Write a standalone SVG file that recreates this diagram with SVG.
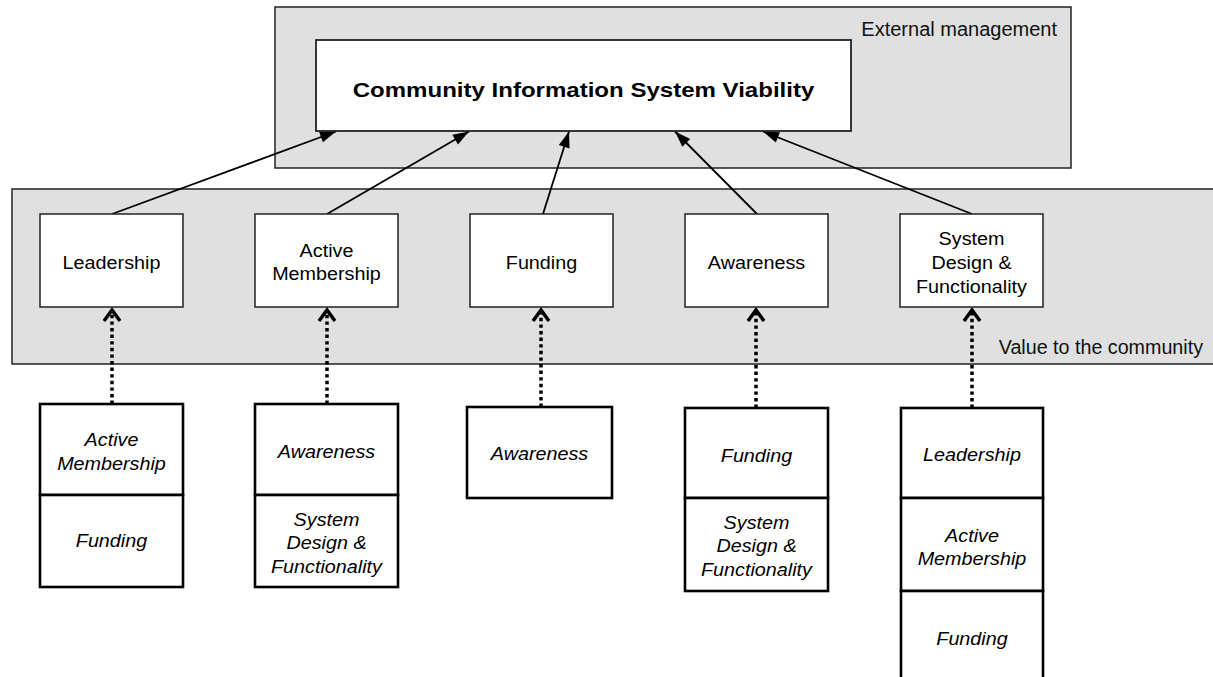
<svg xmlns="http://www.w3.org/2000/svg" width="1213" height="677" viewBox="0 0 1213 677">
<style>
.bg{fill:#ffffff}
.band{fill:#e0e0e0;stroke:#222;stroke-width:1.5}
.top{fill:#fff;stroke:#222;stroke-width:1.8}
.mid{fill:#fff;stroke:#222;stroke-width:1.5}
.bot{fill:#fff;stroke:#000;stroke-width:2.6}
.arrow{fill:none;stroke:#000;stroke-width:1.8;marker-end:url(#ah)}
.dot{fill:none;stroke:#000;stroke-width:3.5;stroke-dasharray:3.4 3.2;marker-end:url(#ch)}
text{font-family:"Liberation Sans",Arial,Helvetica,sans-serif;fill:#000}
.lbl{font-size:17.5px;text-anchor:middle}
.it{font-style:italic}
.title{font-size:21px;font-weight:bold;text-anchor:middle}
.cap{font-size:20px;text-anchor:end;fill:#111}
</style>
<defs>
<marker id="ah" markerUnits="userSpaceOnUse" viewBox="-17 -7 18 14" refX="0" refY="0" markerWidth="18" markerHeight="14" orient="auto" overflow="visible">
<path d="M0,0 L-16,-5.6 L-16,5.6 Z" fill="#000" stroke="none"/>
</marker>
<marker id="ch" markerUnits="userSpaceOnUse" viewBox="-14 -10 16 20" refX="0" refY="0" markerWidth="16" markerHeight="20" orient="auto" overflow="visible">
<path d="M-11,-8 L0,0 L-11,8" fill="none" stroke="#000" stroke-width="3.5" stroke-dasharray="none" stroke-linejoin="miter"/>
</marker>
</defs>
<rect class="bg" x="0" y="0" width="1213" height="677"/>

<g id="external-management">
<rect class="band" x="275" y="7" width="796" height="161"/>
<text class="cap" x="1057" y="35.5">External management</text>
</g>
<g id="value-to-community">
<rect class="band" x="12" y="189" width="1210" height="175"/>
<text class="cap" style="font-size:19.7px" x="1203" y="354">Value to the community</text>
</g>

<g id="connectors">
<line class="arrow" x1="112" y1="214" x2="336" y2="131.5"/>
<line class="arrow" x1="327" y1="214" x2="469" y2="131.5"/>
<line class="arrow" x1="543" y1="214" x2="569" y2="131.5"/>
<line class="arrow" x1="757" y1="214" x2="675" y2="131.5"/>
<line class="arrow" x1="972" y1="214" x2="763" y2="131.5"/>
<line class="dot" x1="112" y1="404" x2="112" y2="310"/>
<line class="dot" x1="327" y1="404" x2="327" y2="310"/>
<line class="dot" x1="541" y1="407" x2="541" y2="310"/>
<line class="dot" x1="756" y1="408" x2="756" y2="310"/>
<line class="dot" x1="972" y1="408" x2="972" y2="310"/>
</g>

<g id="cisv">
<rect class="top" x="316" y="40" width="535" height="91"/>
<text class="title" transform="translate(583.5 97) scale(1.145 1)">Community Information System Viability</text>
</g>

<g id="leadership">
<rect class="mid" x="40" y="214" width="143" height="93"/>
<text class="lbl" transform="translate(111.5 269) scale(1.13 1)">Leadership</text>
</g>
<g id="active-membership">
<rect class="mid" x="255" y="214" width="143" height="93"/>
<text class="lbl" transform="translate(326.5 257) scale(1.13 1)"><tspan x="0" y="0">Active</tspan><tspan x="0" y="23">Membership</tspan></text>
</g>
<g id="funding">
<rect class="mid" x="470" y="214" width="143" height="93"/>
<text class="lbl" transform="translate(541.5 269) scale(1.13 1)">Funding</text>
</g>
<g id="awareness">
<rect class="mid" x="685" y="214" width="143" height="93"/>
<text class="lbl" transform="translate(756.5 269) scale(1.13 1)">Awareness</text>
</g>
<g id="system-design">
<rect class="mid" x="900" y="214" width="143" height="93"/>
<text class="lbl" transform="translate(971.5 245) scale(1.13 1)"><tspan x="0" y="0">System</tspan><tspan x="0" y="24">Design &amp;</tspan><tspan x="0" y="48">Functionality</tspan></text>
</g>

<g id="leadership-factors">
<rect class="bot" x="40" y="404" width="143" height="91"/>
<rect class="bot" x="40" y="495" width="143" height="92"/>
<text class="lbl it" transform="translate(111.5 446) scale(1.13 1)"><tspan x="0" y="0">Active</tspan><tspan x="0" y="24">Membership</tspan></text>
<text class="lbl it" transform="translate(111.5 547) scale(1.13 1)">Funding</text>
</g>
<g id="active-membership-factors">
<rect class="bot" x="255" y="404" width="143" height="91"/>
<rect class="bot" x="255" y="495" width="143" height="92"/>
<text class="lbl it" transform="translate(326.5 458) scale(1.13 1)">Awareness</text>
<text class="lbl it" transform="translate(326.5 526) scale(1.13 1)"><tspan x="0" y="0">System</tspan><tspan x="0" y="23.5">Design &amp;</tspan><tspan x="0" y="47.5">Functionality</tspan></text>
</g>
<g id="funding-factors">
<rect class="bot" x="467" y="407" width="145" height="91"/>
<text class="lbl it" transform="translate(539.5 460) scale(1.13 1)">Awareness</text>
</g>
<g id="awareness-factors">
<rect class="bot" x="685" y="408" width="143" height="90"/>
<rect class="bot" x="685" y="498" width="143" height="93"/>
<text class="lbl it" transform="translate(756.5 461.5) scale(1.13 1)">Funding</text>
<text class="lbl it" transform="translate(756.5 528.5) scale(1.13 1)"><tspan x="0" y="0">System</tspan><tspan x="0" y="24">Design &amp;</tspan><tspan x="0" y="48">Functionality</tspan></text>
</g>
<g id="system-design-factors">
<rect class="bot" x="901" y="408" width="142" height="90"/>
<rect class="bot" x="901" y="498" width="142" height="93"/>
<rect class="bot" x="901" y="591" width="142" height="100"/>
<text class="lbl it" transform="translate(972 461) scale(1.13 1)">Leadership</text>
<text class="lbl it" transform="translate(972 541.5) scale(1.13 1)"><tspan x="0" y="0">Active</tspan><tspan x="0" y="24">Membership</tspan></text>
<text class="lbl it" transform="translate(972 645) scale(1.13 1)">Funding</text>
</g>
</svg>
